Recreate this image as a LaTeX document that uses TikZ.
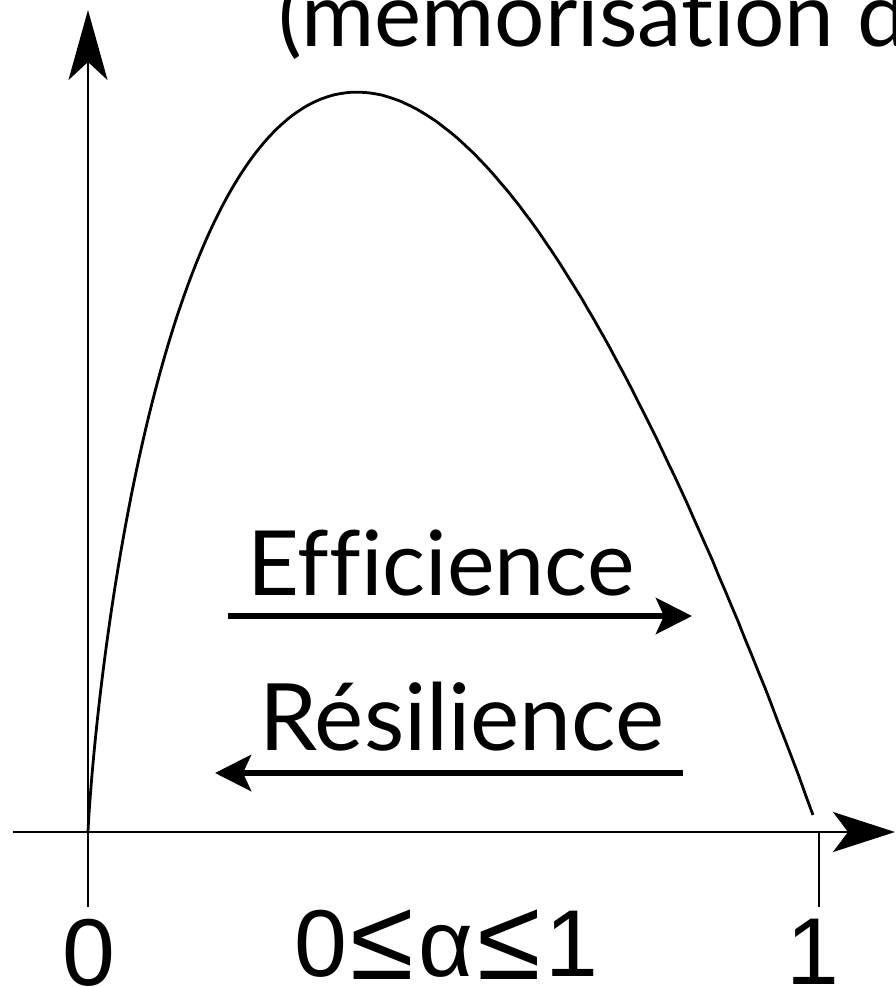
\documentclass[tikz,border=0pt]{standalone}
\usepackage{fontspec}
\setmainfont{Lato}[Ligatures=CommonOff]
\newfontfamily\arialfont{Liberation Sans}
\usetikzlibrary{arrows.meta}
\newcommand{\bigleq}{\raisebox{-3pt}{\scalebox{1.22}{≤}}}
\tikzset{
  axis/.style={line width=2.8pt, draw=black},
  bigtip/.style={-{Stealth[length=70pt,width=39pt,inset=18pt]}},
  xtip/.style={-{Stealth[length=62pt,width=40pt,inset=15pt]}},
  dirarrow/.style={line width=6pt, -{Stealth[length=36pt,width=36pt,inset=8pt]}},
  curve/.style={line width=2.8pt, draw=black},
  gill/.style={inner sep=0pt, font=\fontsize{90}{96}\selectfont},
  numlab/.style={inner sep=0pt, font=\arialfont\fontsize{95}{100}\selectfont},
}
\begin{document}
\begin{tikzpicture}[x=1pt,y=-1pt]
\path[use as bounding box] (0,0) rectangle (895,987);
\clip (0,0) rectangle (895,987);
% coordinates
\coordinate (O) at (88,832);
\coordinate (ytop) at (88,10);
\coordinate (ybot) at (88,907);
\coordinate (xl) at (13,832);
\coordinate (xr) at (895,832);
\coordinate (one) at (819,832);
\coordinate (onebot) at (819,907);
% axes
\draw[axis,bigtip] (ybot) -- (ytop);
\draw[axis,xtip] (xl) -- (xr);
\draw[axis] (one) -- (onebot);
% curve  f = -a ln a, with a = s^3
\draw[curve] (O) -- plot[domain=0.03:1, samples=300, variable=\s]
  ({88+731*\s*\s*\s}, {832+6033*\s*\s*\s*ln(\s)});
% title
\node[gill, anchor=base west, font=\fontsize{89}{96}\selectfont] (title) at (278,47) {(memorisation d};
% labels with arrows
\node[gill, anchor=base] (eff) at (441,595) {Efficience};
\coordinate (effA) at (228,616);
\coordinate (effB) at (692,616);
\draw[dirarrow] (effA) -- (effB);
\node[gill, anchor=base, font=\fontsize{93}{96}\selectfont] (res) at (462,750) {Résilience};
\coordinate (resA) at (683,773);
\coordinate (resB) at (215,773);
\draw[dirarrow] (resA) -- (resB);
% axis numbers
\node[numlab, anchor=base] (zero) at (89,985) {0};
\node[numlab, anchor=base] (alpha) at (446,976) {0\kern4pt\bigleq\kern4pt α\kern4pt\bigleq\kern4pt 1};
\node[numlab, anchor=base] (onelab) at (813,984) {1};
\end{tikzpicture}
\end{document}
